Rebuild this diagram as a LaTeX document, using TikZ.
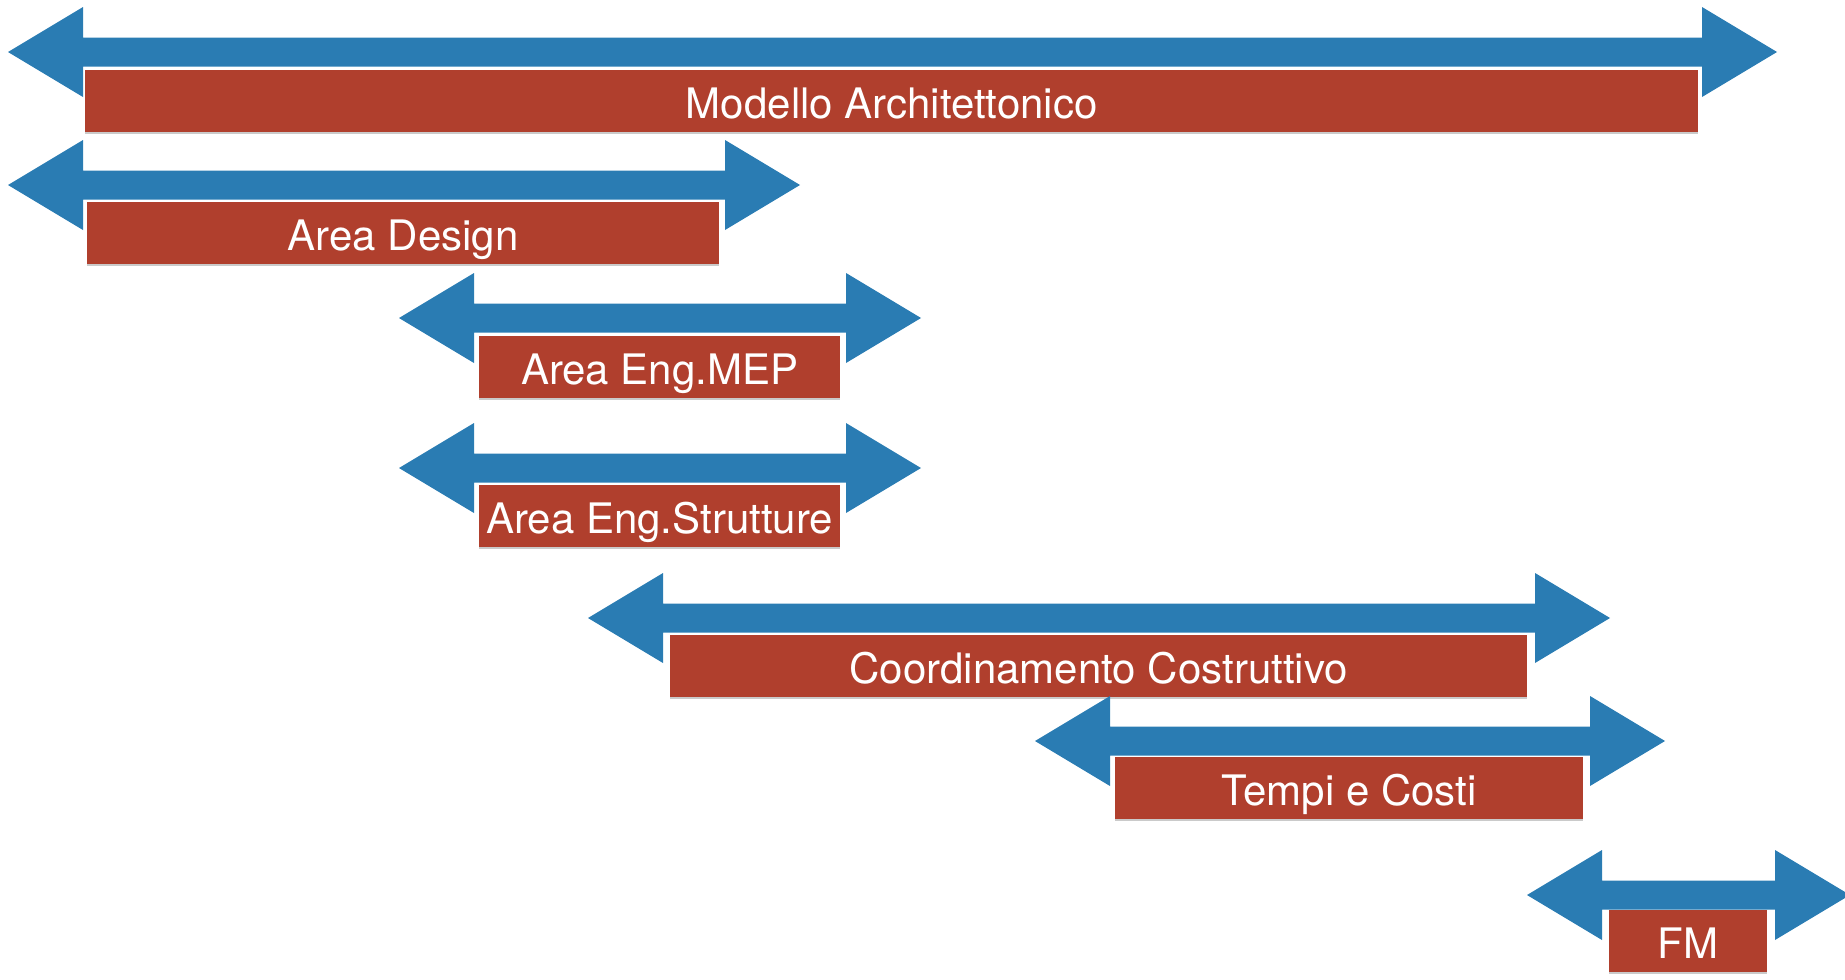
\documentclass[tikz,border=0pt]{standalone}
\usepackage{fontspec}
\setmainfont{TeX Gyre Heros}
\usetikzlibrary{shadows}
\definecolor{arrowblue}{RGB}{42,124,179}
\definecolor{boxred}{RGB}{176,63,45}
\tikzset{
  dblarrow/.style={fill=arrowblue, draw=none},
  barbox/.style={fill=boxred, draw=none, anchor=north west, inner sep=0pt,
    minimum height=62pt, text=white, text height=40pt, text depth=5pt,
    font=\fontsize{42}{50}\selectfont,
    drop shadow={shadow xshift=0pt, shadow yshift=-2pt, opacity=0.35, fill=black!60}},
}
% #1 left tip x, #2 right tip x, #3 axis y
\newcommand{\twoheadbar}[3]{%
  \fill[dblarrow] (#1,#3) -- ({#1+75},{#3-45}) -- ({#1+75},{#3-14.5}) --
    ({#2-75},{#3-14.5}) -- ({#2-75},{#3-45}) -- (#2,#3) --
    ({#2-75},{#3+45}) -- ({#2-75},{#3+14.5}) -- ({#1+75},{#3+14.5}) --
    ({#1+75},{#3+45}) -- cycle;}
\begin{document}
\begin{tikzpicture}[x=1pt,y=-1pt]
\useasboundingbox (0,0) rectangle (1845,980);
\clip (0,0) rectangle (1845,980);
% 1
\twoheadbar{8}{1777}{52}
\node[barbox, minimum width=1613pt] (modello) at (85,70) {Modello Architettonico};
% 2
\twoheadbar{8}{800}{185}
\node[barbox, minimum width=632pt] (design) at (87,202) {Area Design};
% 3
\twoheadbar{399}{921}{318}
\node[barbox, minimum width=361pt] (mep) at (479,336) {Area Eng.MEP};
% 4
\twoheadbar{399}{921}{468}
\node[barbox, minimum width=361pt] (strutture) at (479,485) {Area Eng.Strutture};
% 5
\twoheadbar{588}{1610}{618}
\node[barbox, minimum width=857pt] (coord) at (670,635) {Coordinamento Costruttivo};
% 6
\twoheadbar{1035}{1665}{741}
\node[barbox, minimum width=468pt] (tempi) at (1115,757) {Tempi e Costi};
% 7
\twoheadbar{1527}{1850}{895}
\node[barbox, minimum width=158pt] (fm) at (1609,910) {FM};
\end{tikzpicture}
\end{document}
